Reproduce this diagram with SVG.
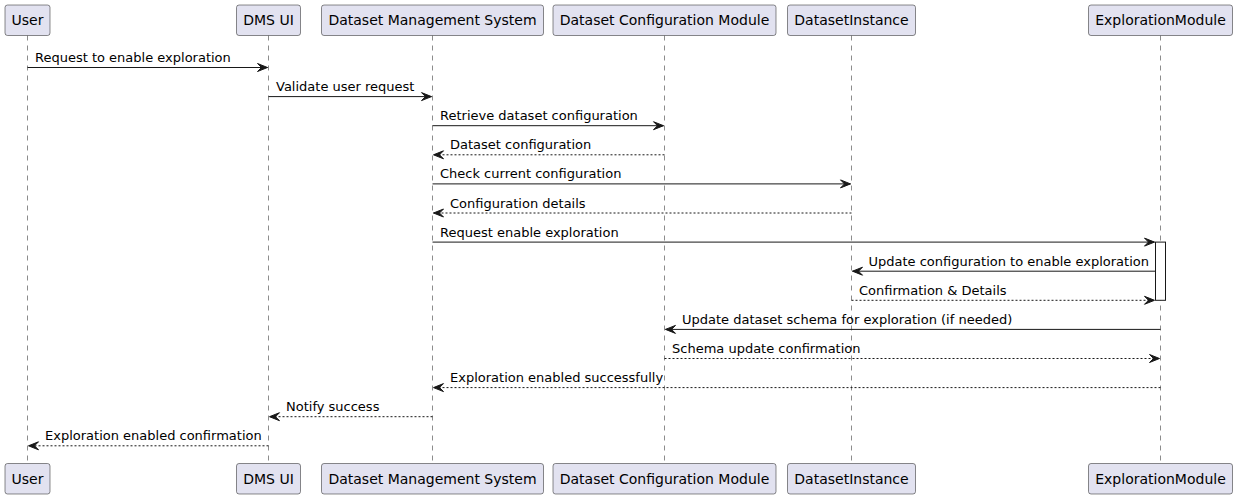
<svg xmlns="http://www.w3.org/2000/svg" width="1238" height="498" viewBox="0 0 1238 498">
<style>
.box{fill:#E2E2F0;stroke:#181818;stroke-width:0.5}
.life{stroke:#181818;stroke-width:0.5;stroke-dasharray:5,5;fill:none}
.pt{font-family:"DejaVu Sans",Verdana,sans-serif;font-size:14px;fill:#000;text-anchor:middle}
.msg{stroke:#181818;stroke-width:1;fill:none;marker-end:url(#ah)}
.dash{stroke-dasharray:2,2}
.ml{font-family:"DejaVu Sans",Verdana,sans-serif;font-size:13px;fill:#000}
.act{fill:#FFFFFF;stroke:#181818;stroke-width:1}
</style>
<defs>
<marker id="ah" markerUnits="userSpaceOnUse" markerWidth="12" markerHeight="10" refX="10" refY="4" orient="auto" overflow="visible">
<path d="M0,0 L10,4 L0,8 L4,4 Z" fill="#181818" stroke="#181818" stroke-width="1"/>
</marker>
</defs>
<rect width="1238" height="498" fill="#FFFFFF"/>
<g id="User">
<line class="life" x1="27.5" y1="35.5" x2="27.5" y2="463.5"/>
<rect class="box" x="5" y="5" width="45" height="30.5" rx="2.5"/>
<text class="pt" x="27.5" y="25">User</text>
<rect class="box" x="5" y="463.5" width="45" height="30.5" rx="2.5"/>
<text class="pt" x="27.5" y="483.5">User</text>
</g>
<g id="DMSUI">
<line class="life" x1="268.5" y1="35.5" x2="268.5" y2="463.5"/>
<rect class="box" x="236.5" y="5" width="64" height="30.5" rx="2.5"/>
<text class="pt" x="268.5" y="25">DMS UI</text>
<rect class="box" x="236.5" y="463.5" width="64" height="30.5" rx="2.5"/>
<text class="pt" x="268.5" y="483.5">DMS UI</text>
</g>
<g id="DMS">
<line class="life" x1="432.5" y1="35.5" x2="432.5" y2="463.5"/>
<rect class="box" x="321.5" y="5" width="222" height="30.5" rx="2.5"/>
<text class="pt" x="432.5" y="25">Dataset Management System</text>
<rect class="box" x="321.5" y="463.5" width="222" height="30.5" rx="2.5"/>
<text class="pt" x="432.5" y="483.5">Dataset Management System</text>
</g>
<g id="DCM">
<line class="life" x1="664.5" y1="35.5" x2="664.5" y2="463.5"/>
<rect class="box" x="553" y="5" width="223" height="30.5" rx="2.5"/>
<text class="pt" x="664.5" y="25">Dataset Configuration Module</text>
<rect class="box" x="553" y="463.5" width="223" height="30.5" rx="2.5"/>
<text class="pt" x="664.5" y="483.5">Dataset Configuration Module</text>
</g>
<g id="DatasetInstance">
<line class="life" x1="851.5" y1="35.5" x2="851.5" y2="463.5"/>
<rect class="box" x="787.5" y="5" width="128" height="30.5" rx="2.5"/>
<text class="pt" x="851.5" y="25">DatasetInstance</text>
<rect class="box" x="787.5" y="463.5" width="128" height="30.5" rx="2.5"/>
<text class="pt" x="851.5" y="483.5">DatasetInstance</text>
</g>
<g id="ExplorationModule">
<line class="life" x1="1160.5" y1="35.5" x2="1160.5" y2="463.5"/>
<rect class="box" x="1088.5" y="5" width="144" height="30.5" rx="2.5"/>
<text class="pt" x="1160.5" y="25">ExplorationModule</text>
<rect class="box" x="1088.5" y="463.5" width="144" height="30.5" rx="2.5"/>
<text class="pt" x="1160.5" y="483.5">ExplorationModule</text>
</g>
<g id="connectors">
<line class="msg" x1="27.5" y1="67.5" x2="267.5" y2="67.5"/>
<text class="ml" x="35" y="62">Request to enable exploration</text>
<line class="msg" x1="268.5" y1="96.6" x2="431.5" y2="96.6"/>
<text class="ml" x="276" y="91.1">Validate user request</text>
<line class="msg" x1="432.5" y1="125.7" x2="663.5" y2="125.7"/>
<text class="ml" x="440" y="120.2">Retrieve dataset configuration</text>
<line class="msg dash" x1="664.5" y1="154.8" x2="433.5" y2="154.8"/>
<text class="ml" x="450" y="149.3">Dataset configuration</text>
<line class="msg" x1="432.5" y1="183.9" x2="850.5" y2="183.9"/>
<text class="ml" x="440" y="178.4">Check current configuration</text>
<line class="msg dash" x1="851.5" y1="213" x2="433.5" y2="213"/>
<text class="ml" x="450" y="207.5">Configuration details</text>
<line class="msg" x1="432.5" y1="242.1" x2="1154.5" y2="242.1"/>
<text class="ml" x="440" y="236.6">Request enable exploration</text>
<line class="msg" x1="1155.5" y1="271.2" x2="852.5" y2="271.2"/>
<text class="ml" x="868.5" y="265.7">Update configuration to enable exploration</text>
<line class="msg dash" x1="851.5" y1="300.3" x2="1154.5" y2="300.3"/>
<text class="ml" x="859" y="294.8">Confirmation &amp; Details</text>
<line class="msg" x1="1160.5" y1="329.4" x2="665.5" y2="329.4"/>
<text class="ml" x="682" y="323.9">Update dataset schema for exploration (if needed)</text>
<line class="msg dash" x1="664.5" y1="358.5" x2="1159.5" y2="358.5"/>
<text class="ml" x="672" y="353">Schema update confirmation</text>
<line class="msg dash" x1="1160.5" y1="387.6" x2="433.5" y2="387.6"/>
<text class="ml" x="450" y="382.1">Exploration enabled successfully</text>
<line class="msg dash" x1="432.5" y1="416.7" x2="269.5" y2="416.7"/>
<text class="ml" x="286" y="411.2">Notify success</text>
<line class="msg dash" x1="268.5" y1="445.8" x2="28.5" y2="445.8"/>
<text class="ml" x="45" y="440.3">Exploration enabled confirmation</text>
</g>
<g id="activation">
<rect class="act" x="1155.5" y="242.1" width="10" height="58.2"/>
</g>
</svg>
